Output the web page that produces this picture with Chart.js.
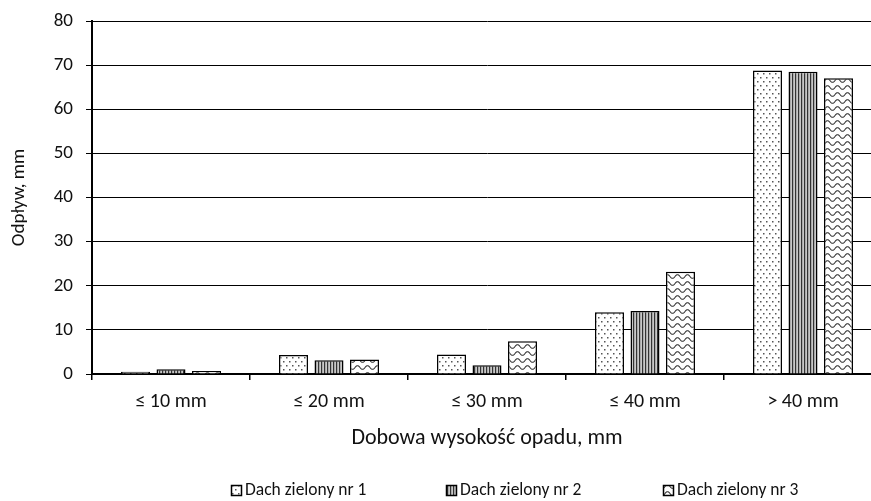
<!DOCTYPE html>
<html>
<head>
<meta charset="utf-8">
<script src="https://cdn.jsdelivr.net/npm/chart.js@4.4.1/dist/chart.umd.min.js"></script>
<style>
html,body{margin:0;padding:0;background:#fff;overflow:hidden;width:871px;height:501px;}
#wrap{position:absolute;left:0;top:0;width:882px;height:501px;}
</style>
</head>
<body>
<div id="wrap"><canvas id="c" width="882" height="501"></canvas></div>
<script>
const categories = ['≤ 10 mm', '≤ 20 mm', '≤ 30 mm', '≤ 40 mm', '> 40 mm'];
const seriesNames = ['Dach zielony nr 1', 'Dach zielony nr 2', 'Dach zielony nr 3'];
const roof1 = [0.5, 4.3, 4.4, 14.0, 68.8];
const roof2 = [1.1, 3.1, 2.0, 14.3, 68.5];
const roof3 = [0.7, 3.3, 7.4, 23.2, 67.0];
const yMin = 0, yMax = 80, yStep = 10;
const xTitle = 'Dobowa wysokość opadu, mm';
const yTitle = 'Odpływ, mm';

const FONT = 'Carlito, Calibri, Lato, sans-serif';
const canvas = document.getElementById('c');
const ctx = canvas.getContext('2d');

function makePattern(w, h, draw) {
  const c = document.createElement('canvas');
  c.width = w; c.height = h;
  const g = c.getContext('2d');
  g.fillStyle = '#fff'; g.fillRect(0, 0, w, h);
  draw(g, w, h);
  return ctx.createPattern(c, 'repeat');
}
const dotPattern = makePattern(6, 8, (g) => {
  g.fillStyle = '#555';
  g.fillRect(1, 1, 1.5, 1.5);
  g.fillRect(4, 5, 1.5, 1.5);
});
const stripePattern = makePattern(3, 1, (g) => {
  g.fillStyle = '#333'; g.fillRect(0, 0, 1, 1);
  g.fillStyle = '#aaa'; g.fillRect(1, 0, 1, 1);
  g.fillStyle = '#c8c8c8'; g.fillRect(2, 0, 1, 1);
});
const wavePattern = makePattern(10, 7, (g) => {
  g.strokeStyle = '#333'; g.lineWidth = 1.1;
  g.beginPath();
  for (let x = -1; x <= 11; x += 0.5) {
    const y = 3.5 + 1.8 * Math.sin((x / 10) * 2 * Math.PI);
    if (x === -1) g.moveTo(x, y); else g.lineTo(x, y);
  }
  g.stroke();
});
const patterns = [dotPattern, stripePattern, wavePattern];
const seriesValues = [roof1, roof2, roof3];

const legendX = [231, 446, 663];
const customLegend = {
  id: 'customLegend',
  afterDraw(chart) {
    const c = chart.ctx;
    c.save();
    c.font = '17.5px ' + FONT;
    c.textBaseline = 'middle';
    c.textAlign = 'left';
    chart.data.datasets.forEach((ds, i) => {
      const x = legendX[i], y = 490;
      c.fillStyle = ds.backgroundColor;
      c.fillRect(x, y - 5, 11, 11);
      c.strokeStyle = '#000'; c.lineWidth = 1.5;
      c.strokeRect(x + 0.5, y - 4.5, 10, 10);
      c.fillStyle = '#111';
      c.fillText(ds.label, x + 14, y + 1);
    });
    c.restore();
  }
};

new Chart(ctx, {
  type: 'bar',
  data: {
    labels: categories,
    datasets: seriesNames.map((name, i) => ({
      label: name,
      data: seriesValues[i],
      backgroundColor: patterns[i],
      borderColor: '#000',
      borderWidth: 1.5,
      categoryPercentage: 0.674,
      barPercentage: 0.817
    }))
  },
  options: {
    responsive: false,
    animation: false,
    devicePixelRatio: 1,
    layout: { padding: { top: 21, left: 0, right: 0, bottom: 0 } },
    plugins: { legend: { display: false }, tooltip: { enabled: false } },
    scales: {
      x: {
        grid: { drawOnChartArea: false, drawTicks: true, tickLength: 6, color: '#000', offset: true, lineWidth: 1.5 },
        border: { color: '#000', width: 2 },
        ticks: { color: '#111', font: { family: FONT, size: 20 }, padding: 10 },
        title: { display: true, text: xTitle, color: '#111', font: { family: FONT, size: 22 }, padding: { top: 0, bottom: 49 } },
        afterFit(scale) { scale.height = 127; scale.paddingLeft = 0; scale.paddingRight = 0; }
      },
      y: {
        min: yMin, max: yMax,
        grid: { color: '#000', lineWidth: 1, tickLength: 6, drawTicks: true },
        border: { color: '#000', width: 2 },
        ticks: { stepSize: yStep, color: '#111', font: { family: FONT, size: 19 }, padding: 13 },
        title: { display: true, text: yTitle, color: '#111', font: { family: FONT, size: 19 }, padding: { top: 8, bottom: 0 } },
        afterFit(scale) { scale.width = 92; scale.paddingTop = 0; scale.paddingBottom = 0; }
      }
    }
  },
  plugins: [customLegend]
});
</script>
</body>
</html>
